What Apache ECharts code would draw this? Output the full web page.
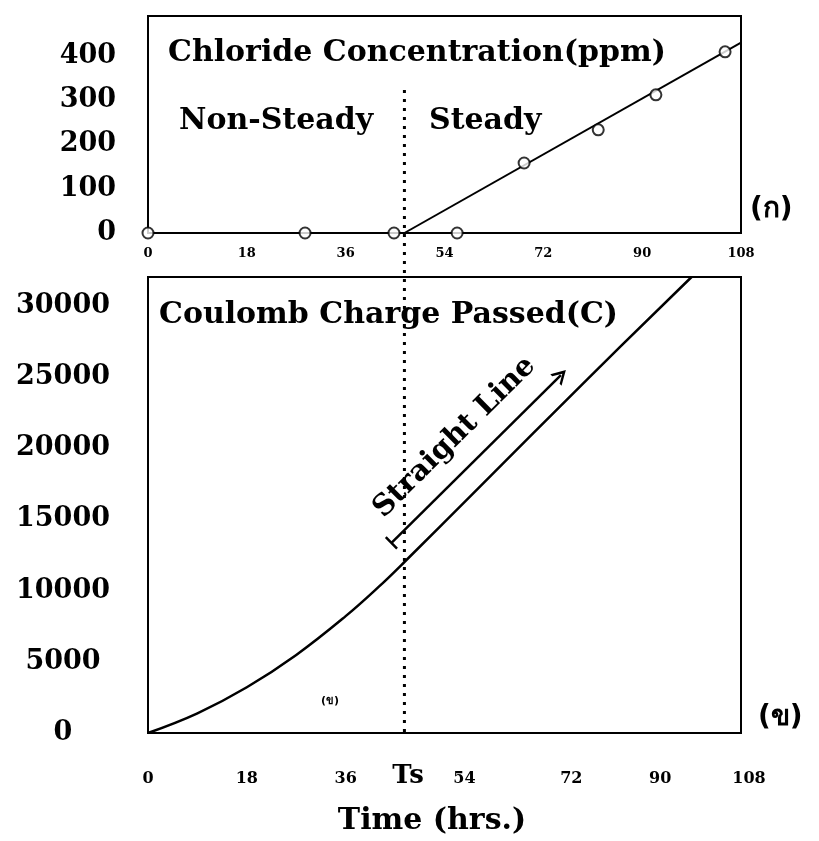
<!DOCTYPE html>
<html>
<head>
<meta charset="utf-8">
<script src="https://cdn.jsdelivr.net/npm/echarts@6/dist/echarts.min.js"></script>
<style>
html,body{margin:0;padding:0;background:#fff;}
#chart{width:819px;height:841px;}
</style>
</head>
<body>
<div id="chart"></div>
<script>
// ---- data ----
var xTicks = [0, 18, 36, 54, 72, 90, 108];
var Ts = 46.7;
// chloride concentration (ppm): measured points [time, ppm]
var chlorideTime = [0, 28.6, 44.8, 56.3, 68.5, 82, 92.5, 105.1];
var chlorideValue = [0, 0, 0, 0, 158, 233, 312, 409];
// fitted steady-state line
var fitTime = [46.7, 108];
var fitValue = [0, 430];
// coulomb charge passed (C)
var chargeTime = [0, 9, 18, 27, 36, 42, 46.7, 60, 80, 99];
var chargeValue = [0, 1380, 3210, 5480, 8200, 10250, 12000, 17120, 24820, 32000];
// "Straight Line" annotation arrow [time, C]
var arrowStart = [44.3, 13330];
var arrowEnd = [75.2, 25120];
// Ts divider: spans from inside the top panel (0) down to the bottom axis (1)
var dividerSpan = [0, 1];

function pairs(xs, ys) { return xs.map(function (x, i) { return [x, ys[i]]; }); }

var SERIF = '"DejaVu Serif", "Liberation Serif", serif';
var chart = echarts.init(document.getElementById('chart'));

var bottomLabelPad = { 54: 40, 72: 56, 90: 36, 108: 16 };
var rich = {};
xTicks.forEach(function (v) {
  rich['t' + v] = { fontFamily: SERIF, fontWeight: 'bold', fontSize: 16, color: '#000',
    padding: [0, 0, 0, bottomLabelPad[v] || 0] };
});

var barPath = 'path://M0,6 L14,6 L14,8.5 L0,8.5 Z M0,0 L0.01,0 L0,0.01 Z M14,14 L13.99,14 L14,13.99 Z';
var chevron = 'path://M0,10 L5,0 L10,10 L8.3,10 L5,3.6 L1.7,10 Z';

var option = {
  backgroundColor: '#fff',
  animation: false,
  grid: [
    { left: 148, right: 78, top: 16, height: 217, show: true, borderColor: '#000', borderWidth: 2, backgroundColor: 'transparent' },
    { left: 148, right: 78, top: 277, height: 456, show: true, borderColor: '#000', borderWidth: 2, backgroundColor: 'transparent' },
    { left: 148, right: 78, top: 90, height: 643, show: false }
  ],
  xAxis: [
    { gridIndex: 0, type: 'value', min: 0, max: 108, interval: 18,
      axisLine: { show: true, onZero: false, lineStyle: { color: '#000', width: 2 } },
      axisTick: { show: false }, splitLine: { show: false },
      axisLabel: { margin: 14, fontFamily: SERIF, fontWeight: 'bold', fontSize: 13, color: '#000' } },
    { gridIndex: 1, type: 'value', min: 0, max: 108, interval: 18,
      axisLine: { show: true, onZero: false, lineStyle: { color: '#000', width: 2 } },
      axisTick: { show: false }, splitLine: { show: false },
      axisLabel: { margin: 38, color: '#000', rich: rich,
        formatter: function (v) { return '{t' + v + '|' + v + '}'; } } },
    { gridIndex: 2, type: 'value', min: 0, max: 108, show: false }
  ],
  yAxis: [
    { gridIndex: 0, type: 'value', min: 0, max: 490, interval: 100,
      axisLine: { show: true, lineStyle: { color: '#000', width: 2 } },
      axisTick: { show: false }, splitLine: { show: false },
      axisLabel: { margin: 32, align: 'right', padding: [0, 0, 14, 0],
        fontFamily: SERIF, fontWeight: 'bold', fontSize: 27, color: '#000',
        formatter: function (v) { return v % 100 === 0 ? String(v) : ''; } } },
    { gridIndex: 1, type: 'value', min: 0, max: 32000, interval: 5000,
      axisLine: { show: true, lineStyle: { color: '#000', width: 2 } },
      axisTick: { show: false }, splitLine: { show: false },
      axisLabel: { margin: 85, align: 'center', padding: [0, 0, 26, 0],
        fontFamily: SERIF, fontWeight: 'bold', fontSize: 27, color: '#000',
        formatter: function (v) { return v % 5000 === 0 ? String(v) : ''; } } },
    { gridIndex: 2, type: 'value', min: 0, max: 1, inverse: true, show: false }
  ],
  series: [
    { type: 'line', xAxisIndex: 2, yAxisIndex: 2, data: [[Ts, dividerSpan[0]], [Ts, dividerSpan[1]]],
      showSymbol: false, silent: true, z: 1,
      lineStyle: { color: '#000', width: 3, type: [3, 6] } },
    { type: 'line', xAxisIndex: 0, yAxisIndex: 0, data: pairs(fitTime, fitValue),
      showSymbol: false, lineStyle: { color: '#000', width: 2 } },
    { type: 'scatter', xAxisIndex: 0, yAxisIndex: 0, data: pairs(chlorideTime, chlorideValue),
      symbol: 'circle', symbolSize: 11, z: 5,
      itemStyle: { color: '#fff', borderColor: '#000', borderWidth: 2 } },
    { type: 'line', xAxisIndex: 1, yAxisIndex: 1, data: pairs(chargeTime, chargeValue),
      smooth: 0.4, showSymbol: false, lineStyle: { color: '#000', width: 2.5 } },
    { type: 'line', xAxisIndex: 1, yAxisIndex: 1, data: [],
      markLine: { silent: true, symbol: [barPath, chevron], symbolSize: [16, 14],
        lineStyle: { color: '#000', width: 2.5, type: 'solid' },
        label: { show: true, position: 'insideMiddleTop', distance: 16,
          formatter: 'Straight Line', fontFamily: SERIF, fontWeight: 'bold', fontSize: 29, color: '#000' },
        data: [[{ coord: arrowStart }, { coord: arrowEnd }]] } }
  ],
  graphic: [
    { type: 'text', x: 168, y: 53, style: { text: 'Chloride Concentration(ppm)', font: 'bold 30px ' + SERIF, fill: '#000', align: 'left', verticalAlign: 'middle' } },
    { type: 'text', x: 179, y: 121, style: { text: 'Non-Steady', font: 'bold 30px ' + SERIF, fill: '#000', align: 'left', verticalAlign: 'middle' } },
    { type: 'text', x: 429, y: 121, style: { text: 'Steady', font: 'bold 30px ' + SERIF, fill: '#000', align: 'left', verticalAlign: 'middle' } },
    { type: 'text', x: 750, y: 210, style: { text: '(ก)', font: 'bold 28px "DejaVu Sans", "Noto Sans", sans-serif', fill: '#000', align: 'left', verticalAlign: 'middle' } },
    { type: 'text', x: 159, y: 315, style: { text: 'Coulomb Charge Passed(C)', font: 'bold 30px ' + SERIF, fill: '#000', align: 'left', verticalAlign: 'middle' } },
    { type: 'text', x: 758, y: 718, style: { text: '(ข)', font: 'bold 28px "DejaVu Sans", "Noto Sans", sans-serif', fill: '#000', align: 'left', verticalAlign: 'middle' } },
    { type: 'text', x: 330, y: 701, style: { text: '(ข)', font: 'bold 11px "DejaVu Sans", "Noto Sans", sans-serif', fill: '#000', align: 'center', verticalAlign: 'middle' } },
    { type: 'text', x: 408, y: 776, style: { text: 'Ts', font: 'bold 26px ' + SERIF, fill: '#000', align: 'center', verticalAlign: 'middle' } },
    { type: 'text', x: 432, y: 821, style: { text: 'Time (hrs.)', font: 'bold 30px ' + SERIF, fill: '#000', align: 'center', verticalAlign: 'middle' } }
  ]
};
chart.setOption(option);
</script>
</body>
</html>
